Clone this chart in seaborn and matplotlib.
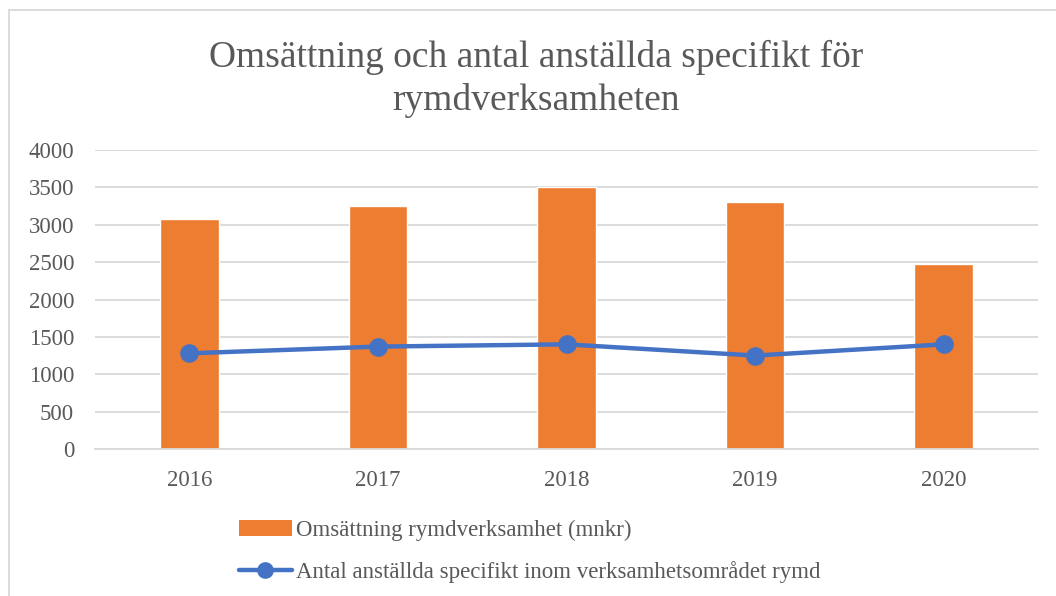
import numpy as np
import pandas as pd
import matplotlib
matplotlib.use('Agg')
import matplotlib.pyplot as plt
from matplotlib.patches import Patch, Rectangle
from matplotlib.lines import Line2D
import seaborn as sns

years = ['2016', '2017', '2018', '2019', '2020']
turnover = [3080, 3250, 3500, 3300, 2480]
employees = [1280, 1370, 1400, 1250, 1400]
yticks = [0, 500, 1000, 1500, 2000, 2500, 3000, 3500, 4000]

title = 'Omsättning och antal anställda specifikt för\nrymdverksamheten'
bar_label = 'Omsättning rymdverksamhet (mnkr)'
line_label = 'Antal anställda specifikt inom verksamhetsområdet rymd'

orange = '#ED7D31'
blue = '#4472C4'
txt = '#595959'
grid = '#D9D9D9'

df = pd.DataFrame({'year': years, 'turnover': turnover, 'employees': employees})

sns.set_theme(style='white')
plt.rcParams['font.family'] = ['Liberation Serif', 'DejaVu Serif']

fig = plt.figure(figsize=(10.56, 5.96), dpi=100)
ax = fig.add_axes([95/1056, 1-449/596, (1038-95)/1056, (449-150)/596])

sns.barplot(data=df, x='year', y='turnover', color=orange, width=0.31,
            saturation=1, ax=ax, zorder=2)
sns.pointplot(data=df, x='year', y='employees', color=blue, errorbar=None,
              markers='o', markersize=11, linewidth=3.2, ax=ax)
for ln in ax.lines:
    ln.set_zorder(3)

ax.set_ylim(0, 4000)
ax.set_xlim(-0.5, 4.5)
ax.set_yticks(yticks)
ax.yaxis.grid(True, color=grid, linewidth=1.3, zorder=0)
ax.set_axisbelow(True)
for s in ['top', 'right', 'left']:
    ax.spines[s].set_visible(False)
ax.spines['bottom'].set_color(grid)
ax.spines['bottom'].set_linewidth(1.3)
ax.tick_params(axis='both', length=0, labelsize=16.5, labelcolor=txt)
ax.tick_params(axis='y', pad=15)
ax.tick_params(axis='x', pad=15)
ax.set_xlabel('')
ax.set_ylabel('')

fig.text(536/1056, 1-79/596, title, ha='center', va='center', fontsize=27,
         color=txt, linespacing=1.3)

handles = [Patch(facecolor=orange, edgecolor='none'),
           Line2D([], [], color=blue, linewidth=3.2, marker='o', markersize=11)]
fig.legend(handles, [bar_label, line_label], loc='upper left',
           bbox_to_anchor=(239/1056, 1-520/596), frameon=False,
           fontsize=16.5, labelcolor=txt, handlelength=2.3, handletextpad=0.2,
           labelspacing=0.85, borderaxespad=0, borderpad=0)

fig.add_artist(Rectangle((9/1056, -0.1), 1.2, 1-10/596+0.1,
                         transform=fig.transFigure, fill=False,
                         edgecolor=grid, linewidth=1.3))

fig.savefig('out.png', dpi=100)
